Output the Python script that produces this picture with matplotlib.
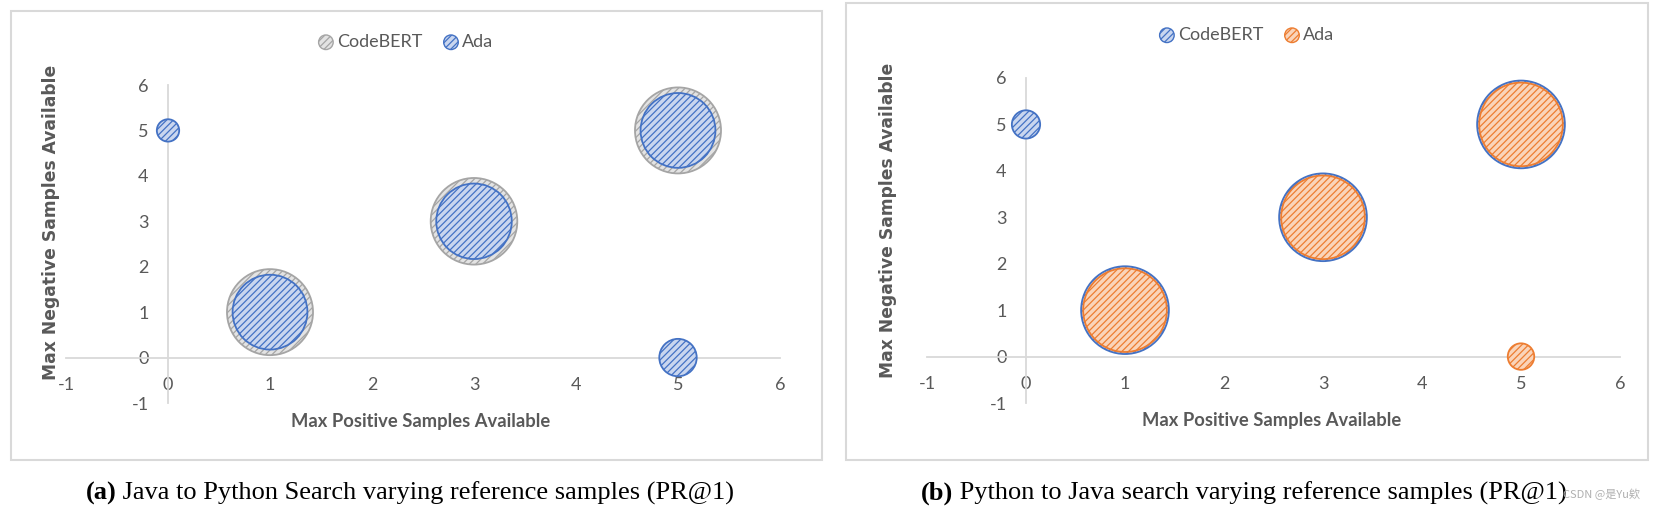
import matplotlib
matplotlib.use("Agg")
import matplotlib.pyplot as plt
from matplotlib.patches import Rectangle

# panel (a): Java -> Python
a_codebert_x = [1, 3, 5]
a_codebert_y = [1, 3, 5]
a_codebert_size = [0.74, 0.75, 0.74]
a_ada_x = [0, 1, 3, 5, 5]
a_ada_y = [5, 1, 3, 5, 0]
a_ada_size = [0.05, 0.56, 0.57, 0.56, 0.14]

# panel (b): Python -> Java
b_codebert_x = [0, 1, 3, 5]
b_codebert_y = [5, 1, 3, 5]
b_codebert_size = [0.08, 0.77, 0.77, 0.77]
b_ada_x = [1, 3, 5, 5]
b_ada_y = [1, 3, 5, 0]
b_ada_size = [0.70, 0.70, 0.70, 0.07]

ticks = [-1, 0, 1, 2, 3, 4, 5, 6]
captions = [("(a)", " Java to Python Search varying reference samples (PR@1)"),
            ("(b)", " Python to Java search varying reference samples (PR@1)")]

BLUE = dict(fc="#c9d6ef", ec="#4472c4")
GRAY = dict(fc="#e3e3e3", ec="#a5a5a5")
ORANGE = dict(fc="#fad4b9", ec="#ed7d31")
TXT = "#595959"
K = 5184  # bubble value -> marker area (pt^2)
W, H = 1659, 514

plt.rcParams["hatch.linewidth"] = 0.9
plt.rcParams["axes.unicode_minus"] = False
fig = plt.figure(figsize=(W / 100, H / 100), dpi=100)

# panel frames (pixel boxes: left, right, top, bottom)
for x0, x1, y0, y1 in [(11, 822, 11, 460), (846, 1648, 3, 460)]:
    fig.patches.append(Rectangle((x0 / W, 1 - y1 / H), (x1 - x0) / W, (y1 - y0) / H,
                                 transform=fig.transFigure, fill=False, ec="#d9d9d9", lw=1.5))

ax_a = fig.add_axes([66 / W, 111 / H, 714 / W, 318 / H])
ax_b = fig.add_axes([927 / W, 111 / H, 693 / W, 325 / H])


def bubbles(ax, x, y, size, style, label):
    ax.scatter(x, y, s=[v * K for v in size], facecolor=style["fc"], edgecolor=style["ec"],
               hatch="/////", linewidth=1.3, zorder=3, clip_on=False)
    return ax.scatter([], [], s=110, facecolor=style["fc"], edgecolor=style["ec"],
                      hatch="/////", linewidth=1.0, label=label)


def style_axes(ax):
    ax.set_xlim(-1, 6)
    ax.set_ylim(-1, 6)
    ax.set_xticks(ticks)
    ax.set_yticks(ticks)
    for s in ["top", "right"]:
        ax.spines[s].set_visible(False)
    for s in ["left", "bottom"]:
        ax.spines[s].set_position(("data", 0))
        ax.spines[s].set_color("#d9d9d9")
        ax.spines[s].set_linewidth(1.3)
    ax.tick_params(length=0, labelsize=13, labelcolor=TXT, pad=14)
    for lab in ax.get_xticklabels() + ax.get_yticklabels():
        lab.set_family("Lato")
    ax.patch.set_visible(False)


h1 = bubbles(ax_a, a_codebert_x, a_codebert_y, a_codebert_size, GRAY, "CodeBERT")
h2 = bubbles(ax_a, a_ada_x, a_ada_y, a_ada_size, BLUE, "Ada")
style_axes(ax_a)
fig.legend(handles=[h1, h2], loc="center", bbox_to_anchor=(404 / W, 1 - 42 / H), ncol=2,
           frameon=False, handletextpad=0.0, columnspacing=1.0, handlelength=1.2,
           prop=dict(family="Lato", size=13), labelcolor=TXT)

h3 = bubbles(ax_b, b_codebert_x, b_codebert_y, b_codebert_size, BLUE, "CodeBERT")
h4 = bubbles(ax_b, b_ada_x, b_ada_y, b_ada_size, ORANGE, "Ada")
style_axes(ax_b)
fig.legend(handles=[h3, h4], loc="center", bbox_to_anchor=(1245 / W, 1 - 35 / H), ncol=2,
           frameon=False, handletextpad=0.0, columnspacing=1.0, handlelength=1.2,
           prop=dict(family="Lato", size=13), labelcolor=TXT)

for ax, yx, yy, xy in [(ax_a, -0.021, 0.569, -0.057), (ax_b, -0.056, 0.563, -0.055)]:
    ax.text(0.497, xy, "Max Positive Samples Available", transform=ax.transAxes, ha="center",
            va="center", fontsize=13.2, fontweight="bold", family="Lato", color=TXT)
    ax.text(yx, yy, "Max Negative Samples Available", transform=ax.transAxes, ha="center",
            va="center", rotation=90, fontsize=12.3, fontweight="bold", color=TXT)

# captions: bold tag followed by regular text, centred as a whole
fig.canvas.draw()
rend = fig.canvas.get_renderer()
for (tag, rest), cx in zip(captions, [410, 1244]):
    t0 = fig.text(0, 0, tag, family="Liberation Serif", fontsize=19, fontweight="bold")
    t1 = fig.text(0, 0, rest, family="Liberation Serif", fontsize=19)
    w0 = t0.get_window_extent(rend).width
    w1 = t1.get_window_extent(rend).width
    x0 = cx - (w0 + w1) / 2
    base = 1 - 500 / H
    t0.set_position((x0 / W, base))
    t1.set_position(((x0 + w0) / W, base))

fig.text(1640 / W, 1 - 494 / H, "CSDN @是Yu欸", ha="right", va="center", fontsize=8,
         color="#b0b0b0", family=["Noto Sans CJK SC", "DejaVu Sans"])

fig.savefig("out.png", dpi=100)
